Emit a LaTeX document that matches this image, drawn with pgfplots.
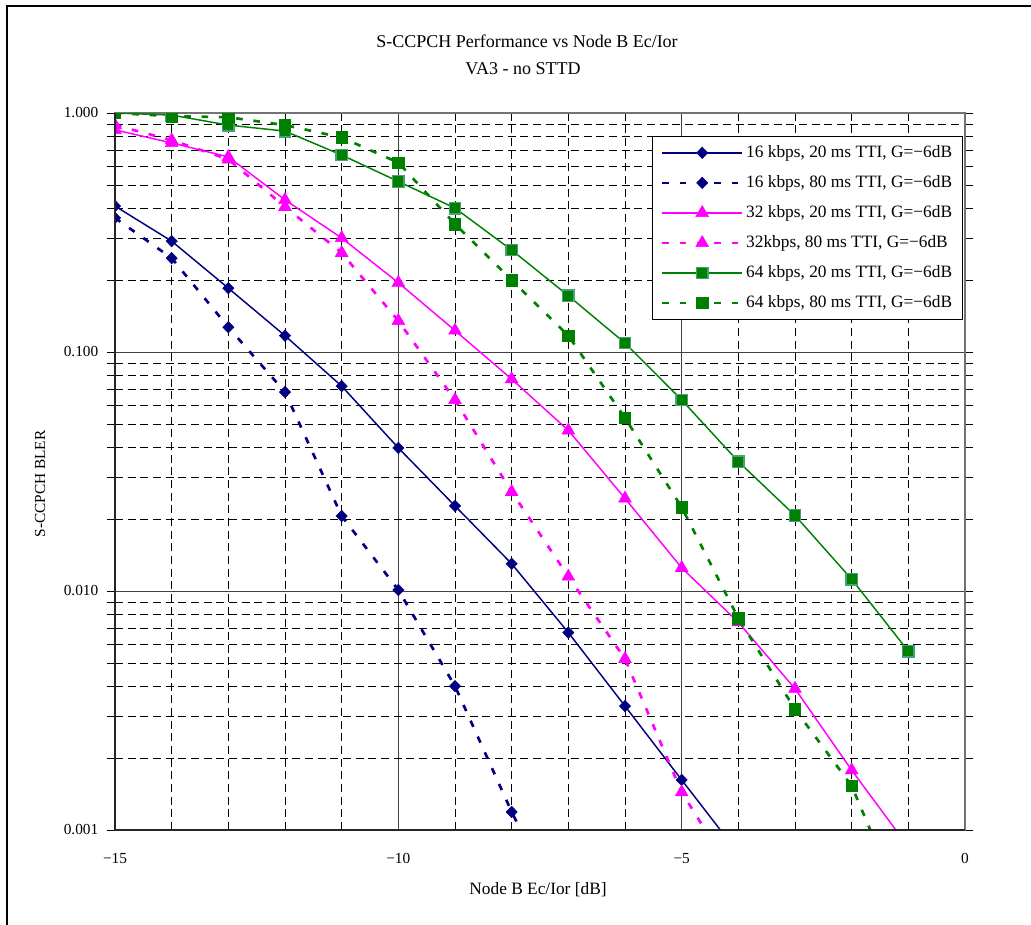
\documentclass[border=0pt]{standalone}
\usepackage{pgfplots}
\pgfplotsset{compat=1.18}
\usepackage{fontspec}
\setmainfont{Liberation Serif}
\definecolor{navyc}{RGB}{0,0,128}
\definecolor{magc}{RGB}{255,0,255}
\definecolor{grnc}{RGB}{0,128,0}
\definecolor{grnedge}{RGB}{70,160,120}

\pgfplotstableread{
x y
-15 0.408
-14 0.291
-13 0.185
-12 0.117
-11 0.072
-10 0.0397
-9 0.0227
-8 0.0130
-7 0.0067
-6 0.0033
-5 0.00162
-4 0.0008
}\sa
\pgfplotstableread{
x y
-15 0.364
-14 0.247
-13 0.127
-12 0.068
-11 0.0206
-10 0.0101
-9 0.0040
-8 0.00119
-7 0.0004
}\sb
\pgfplotstableread{
x y
-15 0.85
-14 0.75
-13 0.655
-12 0.433
-11 0.30
-10 0.195
-9 0.123
-8 0.077
-7 0.047
-6 0.0244
-5 0.0125
-4 0.0074
-3 0.0039
-2 0.00178
-1 0.00085
}\sc
\pgfplotstableread{
x y
-15 0.89
-14 0.77
-13 0.64
-12 0.405
-11 0.26
-10 0.135
-9 0.063
-8 0.026
-7 0.0115
-6 0.0052
-5 0.00144
-4 0.0006
}\sd
\pgfplotstableread{
x y
-15 1.0
-14 0.98
-13 0.89
-12 0.84
-11 0.667
-10 0.517
-9 0.40
-8 0.267
-7 0.172
-6 0.109
-5 0.063
-4 0.0348
-3 0.0207
-2 0.0112
-1 0.0056
}\se
\pgfplotstableread{
x y
-15 1.0
-14 0.97
-13 0.96
-12 0.89
-11 0.79
-10 0.62
-9 0.343
-8 0.20
-7 0.117
-6 0.053
-5 0.0224
-4 0.0077
-3 0.0032
-2 0.00153
-1 0.00042
}\sf

\begin{document}
\begin{tikzpicture}
\path[use as bounding box] (0,0) rectangle (773.25pt,693pt);
\draw[black, line width=0.9pt] (5.25pt,-2pt) -- (5.25pt,688.5pt) -- (776pt,688.5pt);
\begin{axis}[
  at={(86.25pt,70.5pt)}, anchor=south west,
  scale only axis, width=637.5pt, height=537.75pt,
  xmin=-15, xmax=0, ymin=0.001, ymax=1, ymode=log,
  xtick={-15,-10,-5,0}, xticklabels={−15,−10,−5,0}, minor x tick num=4,
  ytick={0.001,0.01,0.1,1}, yticklabels={0.001,0.010,0.100,1.000},
  xmajorgrids, xminorgrids, ymajorgrids, yminorgrids,
  major grid style={black!75, line width=0.6pt},
  minor grid style={black, line width=0.6pt, dash pattern=on 6pt off 3.5pt},
  tick align=outside, major tick length=6pt, minor tick length=6pt,
  xtick style={draw=none}, ytick style={black, line width=0.6pt},
  ticklabel style={font=\fontsize{11.5}{13}\selectfont},
  xticklabel style={yshift=-8pt},
  yticklabel style={xshift=-3pt},
  /pgf/number format/assume math mode=true,
  axis line style={black!55, line width=1.4pt},
  clip marker paths=true,
  legend cell align=left,
  legend style={at={(0.998,0.968)}, anchor=north east, draw=black, line width=0.8pt,
    font=\fontsize{13}{15}\selectfont, row sep=8pt, inner xsep=6pt, inner ysep=5pt},
  legend image code/.code={
    \draw[mark repeat=2,mark phase=2] plot coordinates {(0pt,0pt) (30pt,0pt) (60pt,0pt)};
  },
  after end axis/.code={
    \draw[black!85, line width=1.4pt] (rel axis cs:0,1) -- (rel axis cs:0,0) -- (rel axis cs:1,0);
  },
]
\addplot[navyc, line width=1.1pt, mark=diamond*, mark size=4.3pt,
  mark options={solid, fill=navyc, draw=navyc, line width=0.4pt, xscale=1.3}] table {\sa};
\addlegendentry{16 kbps, 20 ms TTI, G=−6dB}
\addplot[navyc, line width=2pt, dash pattern=on 5pt off 8pt, mark=diamond*, mark size=4.3pt,
  mark options={solid, fill=navyc, draw=navyc, line width=0.4pt, xscale=1.3}] table {\sb};
\addlegendentry{16 kbps, 80 ms TTI, G=−6dB}
\addplot[magc, line width=1.1pt, mark=triangle*, mark size=5.5pt,
  mark options={solid, fill=magc, draw=magc, line width=0.4pt}] table {\sc};
\addlegendentry{32 kbps, 20 ms TTI, G=−6dB}
\addplot[magc, line width=2pt, dash pattern=on 5pt off 8pt, mark=triangle*, mark size=5.5pt,
  mark options={solid, fill=magc, draw=magc, line width=0.4pt}] table {\sd};
\addlegendentry{32kbps, 80 ms TTI, G=−6dB}
\addplot[grnc, line width=1.1pt, mark=square*, mark size=4.3pt,
  mark options={solid, fill=grnc, draw=grnedge, line width=1pt}] table {\se};
\addlegendentry{64 kbps, 20 ms TTI, G=−6dB}
\addplot[grnc, line width=2pt, dash pattern=on 5pt off 8pt, mark=square*, mark size=4.3pt,
  mark options={solid, fill=grnc, draw=grnc, line width=0.4pt}] table {\sf};
\addlegendentry{64 kbps, 80 ms TTI, G=−6dB}
\end{axis}
\node[font=\fontsize{13.5}{15}\selectfont] at (395.25pt,662.25pt) {S-CCPCH Performance vs Node B Ec/Ior};
\node[font=\fontsize{13.5}{15}\selectfont] at (392.25pt,641.25pt) {VA3 - no STTD};
\node[font=\fontsize{13}{15}\selectfont] at (403.5pt,25.5pt) {Node B Ec/Ior [dB]};
\node[font=\fontsize{11.5}{13}\selectfont, rotate=90] at (30pt,330pt) {S-CCPCH BLER};
\end{tikzpicture}
\end{document}
